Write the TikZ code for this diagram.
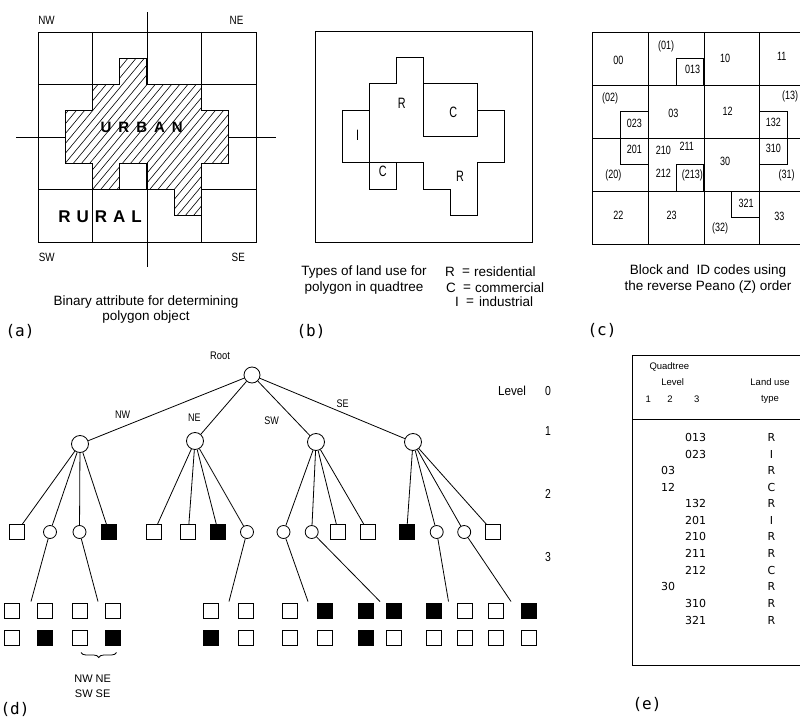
\documentclass[tikz,border=0pt]{standalone}
\usepackage{fontspec}
\usepackage{graphicx}
\setmainfont{Liberation Sans}
\newfontfamily\djv{DejaVu Sans}
\newfontfamily\djm{DejaVu Sans Mono}
\usetikzlibrary{decorations.pathreplacing}
\newcommand{\cnd}[2]{\scalebox{#1}[1]{#2}}
\begin{document}
\begin{tikzpicture}[x=1pt,y=-1pt,
  grd/.style={line width=0.8pt},
  outl/.style={line width=1.1pt},
  conn/.style={line width=0.8pt},
  sq/.style={draw,line width=0.8pt,minimum size=15pt,inner sep=0pt,fill=white},
  fsq/.style={sq,fill=black},
  ci/.style={draw,circle,line width=0.8pt,minimum size=13pt,inner sep=0pt,fill=white},
  cib/.style={ci,minimum size=17pt},
  captxt/.style={font=\fontsize{13.5}{15}\selectfont, inner sep=0pt},
  plab/.style={font=\djm\fontsize{16}{16}\selectfont, inner sep=0pt},
  tlab/.style={font=\fontsize{11}{11}\selectfont, inner sep=0pt},
  alab/.style={font=\fontsize{12}{12}\selectfont, inner sep=0pt},
  codetxt/.style={font=\fontsize{12}{12}\selectfont, inner sep=0pt},
  bigl/.style={font=\fontsize{15}{15}\selectfont, inner sep=0pt},
  tabtxt/.style={font=\djv\fontsize{11}{11}\selectfont, inner sep=0pt},
  hdr/.style={font=\fontsize{9.5}{10}\selectfont, inner sep=0pt},
]
\useasboundingbox (0,0) rectangle (800,719);
\fill[white] (0,0) rectangle (800,719);

% ================= (a) =================
\begin{scope}[shift={(38,32)},x=27.25pt,y=-26.25pt]
  \draw[grd] (0,0) rectangle (8,8);
  \foreach \k in {2,6} {\draw[grd] (\k,0) -- (\k,8); \draw[grd] (0,\k) -- (8,\k);}
  \draw[grd] (4,-0.75) -- (4,8.95);
  \draw[grd] (-0.8,4) -- (8.75,4);
  \fill[white] (3,1) -- (4,1) -- (4,2) -- (6,2) -- (6,3) -- (7,3) -- (7,5) -- (6,5) -- (6,7) -- (5,7) -- (5,6) -- (4,6) -- (4,5) -- (3,5) -- (3,6) -- (2,6) -- (2,5) -- (1,5) -- (1,3) -- (2,3) -- (2,2) -- (3,2) -- cycle;
  \begin{scope}
    \clip (3,1) -- (4,1) -- (4,2) -- (6,2) -- (6,3) -- (7,3) -- (7,5) -- (6,5) -- (6,7) -- (5,7) -- (5,6) -- (4,6) -- (4,5) -- (3,5) -- (3,6) -- (2,6) -- (2,5) -- (1,5) -- (1,3) -- (2,3) -- (2,2) -- (3,2) -- cycle;
    \foreach \t in {-8,-7.7,...,8.5} \draw[line width=0.6pt] (\t,8) -- ({\t+6.4},0);
  \end{scope}
  \draw[outl] (3,1) -- (4,1) -- (4,2) -- (6,2) -- (6,3) -- (7,3) -- (7,5) -- (6,5) -- (6,7) -- (5,7) -- (5,6) -- (4,6) -- (4,5) -- (3,5) -- (3,6) -- (2,6) -- (2,5) -- (1,5) -- (1,3) -- (2,3) -- (2,2) -- (3,2) -- cycle;
\end{scope}
\node[alab] (anw) at (46.5,20.7) {\cnd{0.82}{NW}};
\node[alab] (ane) at (236.5,20.7) {\cnd{0.82}{NE}};
\node[alab] (asw) at (46.7,257) {\cnd{0.82}{SW}};
\node[alab] (ase) at (238.3,257) {\cnd{0.82}{SE}};
\node[font=\fontsize{15}{15}\bfseries\selectfont, inner sep=0pt] (urban) at (141.7,127.5) {U\kern7pt R\kern7pt B\kern7pt A\kern7pt N};
\node[font=\fontsize{17}{17}\bfseries\selectfont, inner sep=0pt] (rural) at (100,216.7) {R\kern6pt U\kern6pt R\kern6pt A\kern6pt L};
\node[captxt] (capa1) at (146,302) {Binary attribute for determining};
\node[captxt] (capa2) at (146,317) {polygon object};
\node[plab] (pa) at (20,331) {(a)};

% ================= (b) =================
\begin{scope}[shift={(315,31)},x=27.125pt,y=-26.375pt]
  \draw[grd] (0,0) rectangle (8,8);
  \draw[outl] (3,1) -- (4,1) -- (4,2) -- (6,2) -- (6,3) -- (7,3) -- (7,5) -- (6,5) -- (6,7) -- (5,7) -- (5,6) -- (4,6) -- (4,5) -- (3,5) -- (3,6) -- (2,6) -- (2,5) -- (1,5) -- (1,3) -- (2,3) -- (2,2) -- (3,2) -- cycle;
  \draw[outl] (2,3) -- (2,5) -- (3,5);
  \draw[outl] (4,2) rectangle (6,4);
\end{scope}
\node[bigl] (br1) at (401.7,103) {\cnd{0.72}{R}};
\node[bigl] (bc1) at (453.3,112) {\cnd{0.72}{C}};
\node[bigl] (bi) at (357.7,135) {\cnd{0.72}{I}};
\node[bigl] (bc2) at (382.7,171.7) {\cnd{0.72}{C}};
\node[bigl] (br2) at (460,176) {\cnd{0.72}{R}};
\node[captxt] (capb1) at (364,272) {Types of land use for};
\node[captxt] (capb2) at (364,288) {polygon in quadtree};
\node[captxt] (lr) at (450,272) {R};
\node[captxt] (lre) at (466,272) {=};
\node[captxt,anchor=west] (lrt) at (474,272) {residential};
\node[captxt] (lc) at (451,288) {C};
\node[captxt] (lce) at (467,288) {=};
\node[captxt,anchor=west] (lct) at (475,288) {commercial};
\node[captxt] (li) at (457,302) {I};
\node[captxt] (lie) at (470,302) {=};
\node[captxt,anchor=west] (lit) at (479,302) {industrial};
\node[plab] (pb) at (311,331) {(b)};

% ================= (c) =================
\begin{scope}[shift={(592.7,32.3)},x=27.8pt,y=-26.46pt]
  \draw[grd] (0,0) rectangle (8,8);
  \foreach \k in {2,4,6} {\draw[grd] (\k,0) -- (\k,8); \draw[grd] (0,\k) -- (8,\k);}
  \draw[outl] (3,1) -- (4,1) -- (4,2) -- (6,2) -- (6,3) -- (7,3) -- (7,5) -- (6,5) -- (6,7) -- (5,7) -- (5,6) -- (4,6) -- (4,5) -- (3,5) -- (3,6) -- (2,6) -- (2,5) -- (1,5) -- (1,3) -- (2,3) -- (2,2) -- (3,2) -- cycle;
\end{scope}
\foreach \nm/\px/\py/\tx in {c00/618.3/60/00, c01/666/46.7/(01), c013/692.7/69.3/013, c10/725/58.3/10, c11/781.7/56.7/11,
  c02/610/98.3/(02), c023/634.3/123.3/023, c03/673.3/113.3/03, c12/727.7/111.7/12, c13/790/96.7/(13), c132/773.3/122.7/132,
  c201/634.3/149/201, c210/663.3/150/210, c211/686.7/146.7/211, c310/773.3/148.3/310, c30/725/161.7/30,
  c20/613.3/175/(20), c212/663.3/173.3/212, c213/692.3/175/(213), c31/786.7/175/(31),
  c321/746/203.3/321, c22/618.3/215/22, c23/671.7/215/23, c32/720/228.3/(32), c33/779.3/216.7/33}
  \node[codetxt] (\nm) at (\px,\py) {\cnd{0.75}{\tx}};
\node[captxt] (capc1) at (708,271) {Block and\ \ ID codes using};
\node[captxt] (capc2) at (708,287) {the reverse Peano (Z) order};
\node[plab] (pc) at (602,330) {(c)};

% ================= (d) =================
\node[cib,minimum size=16pt] (root) at (252,375) {};
\node[tlab] (rootl) at (220,356) {\cnd{0.85}{Root}};
\node[cib] (nw) at (80,444) {};
\node[cib] (ne) at (195,441) {};
\node[cib] (sw) at (316,442) {};
\node[cib] (se) at (413,442) {};
\draw[conn] (root) -- (nw) (root) -- (ne) (root) -- (sw) (root) -- (se);
\node[tlab] (lnw) at (122.7,415) {\cnd{0.82}{NW}};
\node[tlab] (lne) at (194.3,417.3) {\cnd{0.82}{NE}};
\node[tlab] (lsw) at (271.7,420.7) {\cnd{0.82}{SW}};
\node[tlab] (lse) at (342.7,403.3) {\cnd{0.82}{SE}};

\node[sq]  (n00) at (16.7,532) {};
\node[ci]  (n01) at (50,532) {};
\node[ci]  (n02) at (79.5,532) {};
\node[fsq] (n03) at (109,532) {};
\node[sq]  (n10) at (154,532) {};
\node[sq]  (n11) at (188.3,532) {};
\node[fsq] (n12) at (218.3,532) {};
\node[ci]  (n13) at (247,532) {};
\node[ci]  (n20) at (283.5,532) {};
\node[ci]  (n21) at (311.7,532) {};
\node[sq]  (n22) at (338.3,532) {};
\node[sq]  (n23) at (368.3,532) {};
\node[fsq] (n30) at (406.7,532) {};
\node[ci]  (n31) at (436.7,532) {};
\node[ci]  (n32) at (464.2,532) {};
\node[sq]  (n33) at (493.3,532) {};
\draw[conn] (nw) -- (n00) (nw) -- (n01) (nw) -- (n02) (nw) -- (n03);
\draw[conn] (ne) -- (n10) (ne) -- (n11) (ne) -- (n12) (ne) -- (n13);
\draw[conn] (sw) -- (n20) (sw) -- (n21) (sw) -- (n22) (sw) -- (n23);
\draw[conn] (se) -- (n30) (se) -- (n31) (se) -- (n32) (se) -- (n33);

\foreach \nm/\xa/\xb/\fa/\fb/\fc/\fd/\tx in {
  g01/12/45/white/white/white/black/31,
  g02/80/112.5/white/white/white/black/98,
  g13/211/245.5/white/white/black/white/229,
  g20/290/325/white/black/white/white/308,
  g21/365.5/394.3/black/black/black/white/380,
  g31/433.5/464.5/black/white/white/white/448.5,
  g32/496/528.5/white/black/white/white/511}
{
  \node[sq,fill=\fa] (\nm nw) at (\xa,610.5) {};
  \node[sq,fill=\fb] (\nm ne) at (\xb,610.5) {};
  \node[sq,fill=\fc] (\nm sw) at (\xa,637.5) {};
  \node[sq,fill=\fd] (\nm se) at (\xb,637.5) {};
  \coordinate (\nm top) at (\tx,601.5);
}
\draw[conn] (n01) -- (g01top);
\draw[conn] (n02) -- (g02top);
\draw[conn] (n13) -- (g13top);
\draw[conn] (n20) -- (g20top);
\draw[conn] (n21) -- (g21top);
\draw[conn] (n31) -- (g31top);
\draw[conn] (n32) -- (g32top);

\draw[decorate,decoration={brace,amplitude=5pt},line width=0.8pt] (116.5,652.5) -- (81,652.5);
\node[tlab] (qa) at (92.7,678.3) {NW NE};
\node[tlab] (qb) at (92.7,693.3) {SW SE};

\node[font=\fontsize{13}{13}\selectfont,inner sep=0pt] (lev) at (512,391) {\cnd{0.9}{Level}};
\node[font=\fontsize{13}{13}\selectfont,inner sep=0pt] (lv0) at (548,391) {\cnd{0.8}{0}};
\node[font=\fontsize{13}{13}\selectfont,inner sep=0pt] (lv1) at (548,431) {\cnd{0.8}{1}};
\node[font=\fontsize{13}{13}\selectfont,inner sep=0pt] (lv2) at (548,494) {\cnd{0.8}{2}};
\node[font=\fontsize{13}{13}\selectfont,inner sep=0pt] (lv3) at (548,557) {\cnd{0.8}{3}};
\node[plab] (pd) at (15,709) {(d)};

% ================= (e) =================
\draw[grd] (632.3,355) rectangle (815,665);
\draw[grd] (632.3,419.3) -- (815,419.3);
\node[hdr] (h1) at (669.3,366.7) {Quadtree};
\node[hdr] (h2) at (672.7,381.7) {Level};
\node[hdr] (h3) at (648.3,399) {1};
\node[hdr] (h4) at (670,399) {2};
\node[hdr] (h5) at (696.7,399) {3};
\node[hdr] (h6) at (770,381.7) {Land use};
\node[hdr] (h7) at (770,399) {type};
\foreach \nm/\px/\py/\cd/\ty in {
  e1/695.5/437.3/013/R, e2/695.5/454/023/I, e3/668/470.7/03/R, e4/668/487.3/12/C,
  e5/695.5/503.3/132/R, e6/695.5/520/201/I, e7/695.5/536.7/210/R, e8/695.5/553.3/211/R,
  e9/695.5/570/212/C, e10/668/586.7/30/R, e11/695.5/603.3/310/R, e12/695.5/620/321/R}
{
  \node[tabtxt] (\nm c) at (\px,\py) {\cd};
  \node[tabtxt] (\nm t) at (771.5,\py) {\ty};
}
\node[plab] (pe) at (647,704) {(e)};
\end{tikzpicture}
\end{document}
